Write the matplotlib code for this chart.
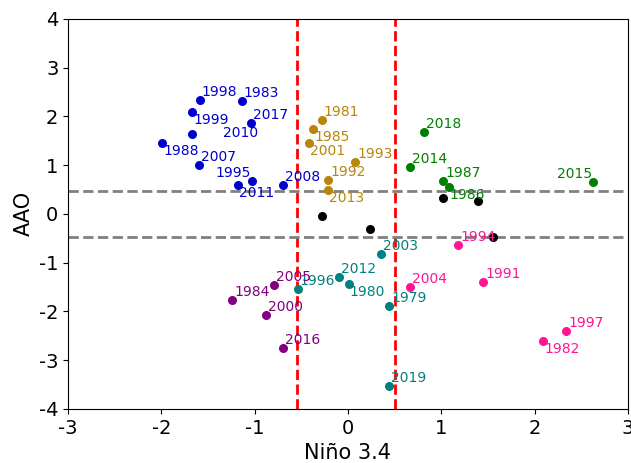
import matplotlib.pyplot as plt

plt.rcParams['axes.unicode_minus'] = False

# La Nina / positive AAO
blue_years = ['1998', '1983', '1999', '2017', '2010', '1988', '2007', '1995', '2011', '2008']
blue_nino = [-1.59, -1.14, -1.67, -1.04, -1.67, -1.99, -1.60, -1.03, -1.18, -0.70]
blue_aao = [2.34, 2.32, 2.09, 1.87, 1.64, 1.46, 1.01, 0.68, 0.59, 0.60]

gold_years = ['1981', '1985', '2001', '1993', '1992', '2013']
gold_nino = [-0.28, -0.37, -0.42, 0.075, -0.21, -0.21]
gold_aao = [1.93, 1.74, 1.46, 1.07, 0.69, 0.49]

green_years = ['2018', '2014', '1987', '1986', '2015']
green_nino = [0.82, 0.66, 1.02, 1.08, 2.63]
green_aao = [1.68, 0.96, 0.68, 0.55, 0.66]

black_nino = [1.02, 1.39, 1.55, -0.28, 0.24]
black_aao = [0.33, 0.27, -0.47, -0.04, -0.31]

pink_years = ['1994', '2004', '1991', '1997', '1982']
pink_nino = [1.18, 0.66, 1.45, 2.34, 2.09]
pink_aao = [-0.64, -1.50, -1.39, -2.40, -2.61]

teal_years = ['2003', '2012', '1980', '1996', '1979', '2019']
teal_nino = [0.35, -0.10, 0.01, -0.54, 0.44, 0.44]
teal_aao = [-0.82, -1.29, -1.43, -1.54, -1.89, -3.53]

purple_years = ['2005', '1984', '2000', '2016']
purple_nino = [-0.79, -1.24, -0.88, -0.70]
purple_aao = [-1.46, -1.77, -2.07, -2.76]

nino_thr = [-0.55, 0.5]
aao_thr = [0.46, -0.48]

# label placement (pixels), default is up-right of the dot
below = (1, -12)
offsets = {'1999': below, '2010': (31, -3), '1988': below, '2011': below,
           '1985': below, '2001': below, '2013': below, '1986': below,
           '1982': below, '1980': below}
left_side = ['1995', '2015']

fig, ax = plt.subplots(figsize=(6.31, 4.63), dpi=100)
fig.subplots_adjust(left=0.108, right=0.995, top=0.959, bottom=0.117)

for v in nino_thr:
    ax.axvline(v, color='red', linestyle='--', linewidth=2, zorder=2)
for v in aao_thr:
    ax.axhline(v, color='gray', linestyle='--', linewidth=2, zorder=2)

groups = [(blue_years, blue_nino, blue_aao, '#0000cc'),
          (gold_years, gold_nino, gold_aao, '#b8860b'),
          (green_years, green_nino, green_aao, 'green'),
          (pink_years, pink_nino, pink_aao, '#ff1493'),
          (teal_years, teal_nino, teal_aao, '#008080'),
          (purple_years, purple_nino, purple_aao, 'purple')]

ax.scatter(black_nino, black_aao, s=30, color='black', zorder=3)
for years, xs, ys, c in groups:
    ax.scatter(xs, ys, s=30, color=c, zorder=3)
    for yr, x, y in zip(years, xs, ys):
        if yr in left_side:
            ax.annotate(yr, (x, y), xytext=(-1, 4), textcoords='offset pixels',
                        ha='right', va='baseline', fontsize=10, color=c, zorder=4)
        else:
            dx, dy = offsets.get(yr, (2, 4))
            ax.annotate(yr, (x, y), xytext=(dx, dy), textcoords='offset pixels',
                        ha='left', va='baseline', fontsize=10, color=c, zorder=4)

ax.set_xlim(-3, 3)
ax.set_ylim(-4, 4)
ax.set_xticks(range(-3, 4))
ax.set_yticks(range(-4, 5))
ax.tick_params(labelsize=14)
ax.set_xlabel('Niño 3.4', fontsize=15)
ax.set_ylabel('AAO', fontsize=15)

fig.savefig('out.png', dpi=100)
